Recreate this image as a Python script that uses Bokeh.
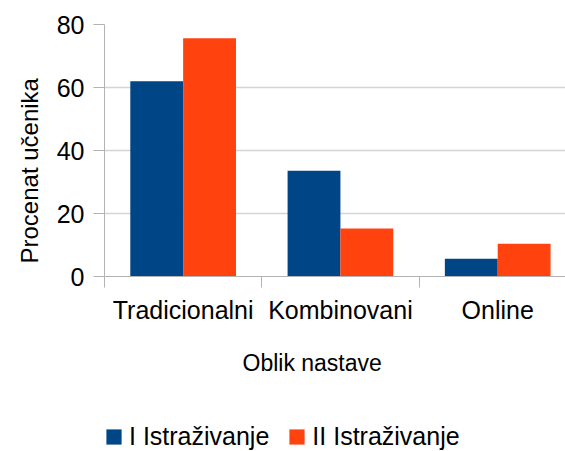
import numpy as np
from bokeh.plotting import figure
from bokeh.layouts import column
from bokeh.models import (Range1d, FixedTicker, Title, Legend, LegendItem,
                          ColumnDataSource)
from bokeh.embed import file_html
from bokeh.resources import INLINE

# ---- data ----
categories = ["Tradicionalni", "Kombinovani", "Online"]
series_names = ["I Istraživanje", "II Istraživanje"]
survey_1 = [62.0, 33.6, 5.6]
survey_2 = [75.6, 15.2, 10.4]
y_ticks = [0, 20, 40, 60, 80]
x_title = "Oblik nastave"
y_title = "Procenat učenika"

colors = ["#004586", "#ff420e"]
FONT = "Liberation Sans"
AXIS_GRAY = "#b3b3b3"
GRID_GRAY = "#d4d4d4"

bar_w = 0.336
idx = np.arange(len(categories))
centers = idx + 0.5

src1 = ColumnDataSource(dict(x=centers - bar_w / 2, top=survey_1))
src2 = ColumnDataSource(dict(x=centers + bar_w / 2, top=survey_2))

MAIN_H = 410
p = figure(width=565, height=MAIN_H, output_backend="svg", toolbar_location=None,
           x_range=Range1d(0, 2.931), y_range=Range1d(0, 80),
           min_border_left=104, min_border_right=0, min_border_top=24,
           min_border_bottom=MAIN_H - 276)
p.outline_line_color = None
p.background_fill_color = "white"
p.border_fill_color = "white"

p.vbar(x="x", top="top", width=bar_w, bottom=0, source=src1,
       fill_color=colors[0], line_color=None)
p.vbar(x="x", top="top", width=bar_w, bottom=0, source=src2,
       fill_color=colors[1], line_color=None)

# x axis
xa = p.xaxis[0]
xa.ticker = FixedTicker(ticks=list(centers), minor_ticks=list(range(len(categories) + 1)))
xa.major_label_overrides = {float(c): name for c, name in zip(centers, categories)}
xa.major_tick_out = 0
xa.major_tick_in = 0
xa.minor_tick_out = 11
xa.minor_tick_in = 0
xa.minor_tick_line_color = AXIS_GRAY
xa.axis_line_color = AXIS_GRAY
xa.major_label_text_font = FONT
xa.major_label_text_font_size = "25px"
xa.major_label_text_color = "#000000"
xa.major_label_standoff = 8

# y axis
ya = p.yaxis[0]
ya.ticker = FixedTicker(ticks=y_ticks)
ya.major_tick_out = 11
ya.major_tick_in = 0
ya.minor_tick_line_color = None
ya.major_tick_line_color = AXIS_GRAY
ya.axis_line_color = AXIS_GRAY
ya.major_label_text_font = FONT
ya.major_label_text_font_size = "25px"
ya.major_label_text_color = "#000000"
ya.major_label_standoff = 9

p.xgrid.grid_line_color = None
p.ygrid.grid_line_color = GRID_GRAY
p.ygrid.grid_line_width = 1.5
p.ygrid.ticker = FixedTicker(ticks=y_ticks)

# axis titles
p.add_layout(Title(text=x_title, align="left", offset=138, standoff=42,
                   text_font=FONT, text_font_size="23px", text_font_style="normal",
                   text_color="#000000"), "below")
p.add_layout(Title(text=y_title, align="left", offset=13, standoff=22,
                   text_font=FONT, text_font_size="24px", text_font_style="normal",
                   text_color="#000000"), "left")

# legend strip (separate figure so the legend is not clipped by the chart frame)
LEG_H = 451 - MAIN_H
q = figure(width=565, height=LEG_H, output_backend="svg", toolbar_location=None,
           x_axis_type=None, y_axis_type=None,
           x_range=Range1d(0, 2.931), y_range=Range1d(0, 80),
           min_border=0)
q.outline_line_color = None
q.grid.grid_line_color = None
# same series as hidden renderers; only their legend swatches are shown
l1 = q.vbar(x="x", top="top", width=bar_w, bottom=0, source=src1,
            fill_color=colors[0], line_color=None, visible=False)
l2 = q.vbar(x="x", top="top", width=bar_w, bottom=0, source=src2,
            fill_color=colors[1], line_color=None, visible=False)
legend = Legend(items=[LegendItem(label=series_names[0], renderers=[l1]),
                       LegendItem(label=series_names[1], renderers=[l2])],
                orientation="horizontal", location=(0, 0),
                padding=0, margin=0, spacing=18, label_standoff=6,
                glyph_width=19, glyph_height=19,
                inactive_fill_alpha=0,
                border_line_color=None, background_fill_alpha=0,
                label_text_font=FONT, label_text_font_size="25px",
                label_text_color="#000000")
q.add_layout(legend, "center")

open("out.html", "w").write(file_html(column(p, q, spacing=0), INLINE))
